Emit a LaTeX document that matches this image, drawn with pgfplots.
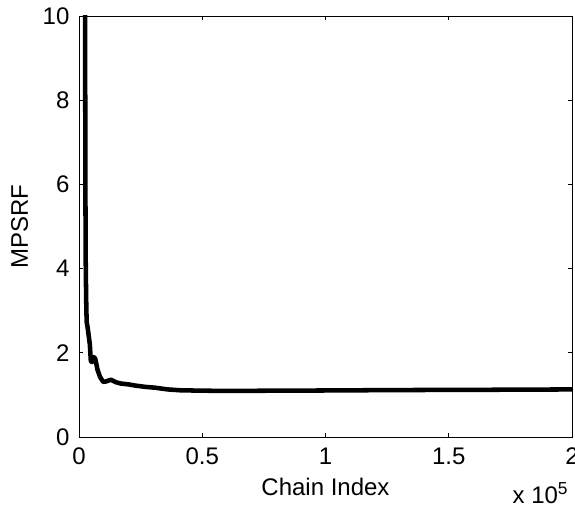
\documentclass[border=0pt]{standalone}
\usepackage{fontspec}
\setmainfont{Liberation Sans}
\usepackage{pgfplots}
\pgfplotsset{compat=1.18}
\begin{document}
\begin{tikzpicture}
\fontsize{18}{21}\selectfont
\useasboundingbox (-59.25pt,-54.75pt) rectangle (372pt,327.75pt);
\begin{axis}[
  scale only axis,
  width=369.75pt, height=315.75pt,
  at={(0,0)}, anchor=south west,
  xmin=0, xmax=200000, ymin=0, ymax=10,
  xtick={0,50000,100000,150000,200000},
  xticklabels={0,0.5,1,1.5,2},
  scaled x ticks=false,
  ytick={0,2,4,6,8,10},
  tick align=inside,
  major tick length=3pt,
  axis line style={line width=0.6pt},
  tick style={line width=0.6pt, black},
  /pgf/number format/assume math mode=true,
  ticklabel style={font=\fontsize{18}{21}\selectfont},
  label style={font=\fontsize{18}{21}\selectfont},
  xlabel={Chain Index},
  ylabel={MPSRF},
  xlabel style={at={(axis description cs:0.5,0)}, anchor=north, yshift=-25pt},
  ylabel style={at={(axis description cs:0,0.5)}, anchor=south, yshift=32pt},
  xticklabel style={yshift=-2pt},
  yticklabel style={xshift=-1pt},
  clip=true,
]
\addplot[black, line width=3.4pt, line join=round] coordinates {
(2400,14) (2500,9) (2600,6) (2700,4.3) (2900,3.3) (3100,2.74) (3500,2.6)
(4400,2.2) (4800,1.8) (5300,1.78) (6000,1.9) (6600,1.86) (7500,1.6)
(8500,1.43) (9800,1.31) (11000,1.32) (13000,1.36) (15000,1.30) (17000,1.27)
(20000,1.25) (23000,1.22) (27000,1.19) (31000,1.17) (36000,1.13) (41000,1.11)
(50000,1.10) (60000,1.095) (80000,1.10) (100000,1.105) (130000,1.115)
(160000,1.12) (200000,1.13)
};
\end{axis}
\node[anchor=base west, inner sep=0pt] at (325pt,-50pt) {x 10\raisebox{7pt}{\fontsize{13}{15}\selectfont 5}};
\end{tikzpicture}
\end{document}
